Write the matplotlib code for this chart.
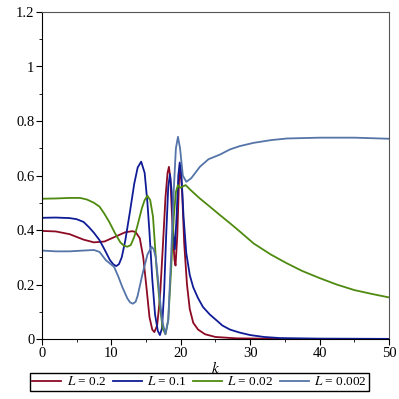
import matplotlib
matplotlib.use("Agg")
import matplotlib.pyplot as plt
from matplotlib.ticker import MultipleLocator, FuncFormatter

plt.rcParams['font.family'] = ['Liberation Serif', 'DejaVu Serif']
plt.rcParams['mathtext.fontset'] = 'stix'

# L = 0.2
k_a = [0, 2, 4, 6, 7.5, 9, 10.5, 12, 13, 13.5, 14.1, 14.6, 15.0, 15.5, 15.9, 16.2, 16.6, 17.0,
       17.4, 17.8, 18.1, 18.3, 18.5, 18.8, 19.1, 19.25, 19.5, 19.75, 19.95, 20.2, 20.5, 20.9,
       21.3, 21.8, 22.5, 23.5, 25, 28, 35, 50]
v_a = [0.397, 0.395, 0.385, 0.365, 0.355, 0.358, 0.375, 0.392, 0.396, 0.393, 0.37, 0.3, 0.205,
       0.08, 0.035, 0.026, 0.05, 0.15, 0.33, 0.52, 0.61, 0.632, 0.59, 0.42, 0.29, 0.27, 0.38,
       0.58, 0.63, 0.54, 0.35, 0.2, 0.11, 0.06, 0.035, 0.018, 0.008, 0.003, 0.001, 0.0]

# L = 0.1
k_b = [0, 2, 4, 5, 6, 6.8, 7.5, 8.3, 9, 9.8, 10.3, 10.7, 11.1, 11.5, 12, 12.7, 13.3, 13.8, 14.3,
       14.8, 15.2, 15.5, 15.9, 16.3, 16.7, 17.0, 17.3, 17.6, 17.9, 18.2, 18.45, 18.7, 18.95,
       19.15, 19.4, 19.65, 19.85, 20.1, 20.4, 20.8, 21.3, 21.8, 22.5, 23.2, 24.2, 25.2, 26, 27.1,
       28.5, 30, 32, 34.3, 40, 50]
v_b = [0.445, 0.446, 0.444, 0.44, 0.43, 0.41, 0.39, 0.363, 0.33, 0.29, 0.274, 0.268, 0.275,
       0.3, 0.36, 0.47, 0.57, 0.63, 0.651, 0.61, 0.5, 0.39, 0.22, 0.09, 0.03, 0.015, 0.04, 0.17,
       0.38, 0.56, 0.605, 0.54, 0.38, 0.33, 0.45, 0.6, 0.648, 0.6, 0.45, 0.315, 0.235, 0.19,
       0.15, 0.118, 0.09, 0.068, 0.05, 0.035, 0.024, 0.015, 0.008, 0.004, 0.002, 0.001]

# L = 0.02
k_c = [0, 2, 4, 5.5, 6.5, 7.5, 8.3, 9, 9.7, 10.5, 11.3, 11.8, 12.3, 12.8, 13.3, 13.7, 14.4,
       14.8, 15.2, 15.6, 16.0, 16.5, 17.0, 17.4, 17.8, 18.2, 18.6, 19.0, 19.3, 19.6, 19.9,
       20.3, 20.7, 21.5, 22.75, 24, 25.65, 27.1, 28.5, 30.5, 33, 35.3, 37.5, 40.1, 42.5, 45,
       47.5, 50]
v_c = [0.515, 0.516, 0.518, 0.518, 0.512, 0.5, 0.486, 0.46, 0.43, 0.39, 0.355, 0.343, 0.339,
       0.345, 0.375, 0.41, 0.48, 0.51, 0.526, 0.51, 0.45, 0.265, 0.12, 0.04, 0.018, 0.07, 0.25,
       0.45, 0.54, 0.565, 0.555, 0.56, 0.565, 0.545, 0.516, 0.49, 0.455, 0.425, 0.395, 0.351,
       0.31, 0.278, 0.25, 0.223, 0.2, 0.18, 0.166, 0.153]

# L = 0.002
k_d = [0, 2, 4, 6, 7.5, 8.3, 9.2, 10.4, 11.0, 11.6, 12.3, 12.7, 13.1, 13.5, 13.8, 14.5, 15.2,
       15.8, 16.1, 16.4, 16.8, 17.3, 17.8, 18.2, 18.6, 19.0, 19.3, 19.6, 19.9, 20.3, 20.8, 21.5,
       22.75, 24, 25.65, 27.1, 28.5, 30.5, 33, 35.3, 40, 45, 50]
v_d = [0.325, 0.322, 0.322, 0.325, 0.327, 0.32, 0.29, 0.265, 0.23, 0.19, 0.15, 0.135, 0.13,
       0.137, 0.16, 0.24, 0.31, 0.339, 0.33, 0.3, 0.2, 0.07, 0.018, 0.07, 0.3, 0.55, 0.7, 0.742,
       0.7, 0.6, 0.577, 0.59, 0.632, 0.66, 0.677, 0.696, 0.708, 0.72, 0.73, 0.736, 0.739,
       0.739, 0.735]

labels = ['$L$ = 0.2', '$L$ = 0.1', '$L$ = 0.02', '$L$ = 0.002']
colors = ['#8c0a23', '#101c96', '#4f8a10', '#5574a8']

fig = plt.figure(figsize=(3.99, 3.99), dpi=100)
ax = fig.add_axes([0.105, 0.15, 0.87, 0.82])

for kk, vv, lab, col in zip([k_a, k_b, k_c, k_d], [v_a, v_b, v_c, v_d], labels, colors):
    ax.plot(kk, vv, color=col, lw=1.3, label=lab)

ax.set_xlim(0, 50)
ax.set_ylim(0, 1.2)
ax.xaxis.set_major_locator(MultipleLocator(10))
ax.xaxis.set_minor_locator(MultipleLocator(5))
ax.yaxis.set_major_locator(MultipleLocator(0.2))
ax.yaxis.set_minor_locator(MultipleLocator(0.1))
ax.yaxis.set_major_formatter(FuncFormatter(lambda v, p: '%g' % round(v, 2)))
ax.tick_params(which='major', length=4, labelsize=10.5, direction='out', pad=1.5)
ax.tick_params(which='minor', length=2.5, direction='out')
for s in ['top', 'right']:
    ax.spines[s].set_color('#555555')
    ax.spines[s].set_linewidth(0.8)
ax.set_xlabel('$k$', fontsize=11, labelpad=0)

fig.legend(loc='center', bbox_to_anchor=(0.5, 0.043), ncol=4, fontsize=9.5,
           frameon=True, fancybox=False, edgecolor='black', framealpha=1,
           handlelength=2.2, columnspacing=0.5, handletextpad=0.4,
           borderpad=0.2, borderaxespad=0)

fig.savefig('out.png', dpi=100)
